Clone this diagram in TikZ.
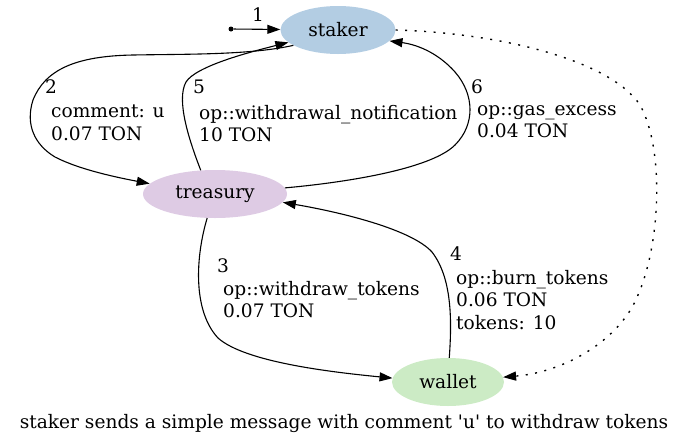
\documentclass[tikz,border=0pt]{standalone}
\usepackage{fontspec}
\setmainfont{DejaVu Serif}
\usetikzlibrary{shapes.geometric,arrows.meta}
\definecolor{cstaker}{HTML}{B3CDE3}
\definecolor{ctreas}{HTML}{DECBE4}
\definecolor{cwallet}{HTML}{CCEBC5}
\begin{document}
\begin{tikzpicture}[x=1pt,y=-1pt,
  txt/.style={font=\fontsize{18.6}{22.5}\selectfont, inner sep=0pt},
  agent/.style={ellipse, txt, minimum height=48pt},
  lbl/.style={txt, anchor=base west},
  body/.style={txt, anchor=north west, align=left},
  edge/.style={line width=1.1pt, -{Triangle[length=13pt,width=9pt]}},
  dots/.style={line width=1.4pt, dash pattern=on 2pt off 7.5pt, -{Triangle[length=13pt,width=9pt,line cap=butt,line join=miter]}}
]
\useasboundingbox (0,0) rectangle (688,445);
\node[agent, fill=cstaker, minimum width=115pt] (staker) at (338,30) {staker};
\node[agent, fill=ctreas, minimum width=144pt] (treasury) at (215,194) {treasury};
\node[agent, fill=cwallet, minimum width=112pt] (wallet) at (448,382) {wallet};
\node[circle, fill=black, inner sep=0pt, minimum size=5pt] (start) at (231,29) {};

\draw[edge] (start) -- (staker);
\node[lbl] (l1) at (252,21) {1};

% 2: staker -> treasury
\draw[edge] (staker.199) .. controls (250,55) and (190,54) .. (133,55)
  .. controls (75,56) and (45,70) .. (33,100)
  .. controls (25,125) and (35,145) .. (55,157)
  .. controls (80,170) and (120,178) .. (treasury.171);
\node[lbl] (l2) at (45,93) {2};
\node[body] (b2) at (51,105) {comment: u\\0.07 TON};

% 5: treasury -> staker
\draw[edge] (treasury.121) .. controls (189,140) and (176,100) .. (186,82)
  .. controls (196,66) and (250,52) .. (staker.194);
\node[lbl] (l5) at (193,93) {5};
\node[body] (b5) at (199,105) {op::withdrawal\_notification\\10 TON};

% 6: treasury -> staker
\draw[edge] (treasury.5) .. controls (340,183) and (430,170) .. (455,145)
  .. controls (475,125) and (475,95) .. (455,72)
  .. controls (440,55) and (420,45) .. (staker.-12);
\node[lbl] (l6) at (471,93) {6};
\node[body] (b6) at (477,105) {op::gas\_excess\\0.04 TON};

% 3: treasury -> wallet
\draw[edge] (treasury.252) .. controls (196,255) and (192,310) .. (218,338)
  .. controls (245,362) and (330,372) .. (wallet.176);
\node[lbl] (l3) at (217,272) {3};
\node[body] (b3) at (223,281) {op::withdraw\_tokens\\0.07 TON};

% 4: wallet -> treasury
\draw[edge] (wallet.87) .. controls (452,320) and (452,278) .. (432,252)
  .. controls (412,230) and (345,213) .. (treasury.-7);
\node[lbl] (l4) at (450,260) {4};
\node[body] (b4) at (456,270) {op::burn\_tokens\\0.06 TON\\tokens: 10};

% dotted: staker -> wallet
\draw[dots] (staker.east) .. controls (500,33) and (610,60) .. (640,105)
  .. controls (665,150) and (660,245) .. (638,295)
  .. controls (620,340) and (565,372) .. (wallet.5);

\node[txt, anchor=base] (cap) at (344,428) {staker sends a simple message with comment \textquotesingle u\textquotesingle{} to withdraw tokens};
\end{tikzpicture}
\end{document}
